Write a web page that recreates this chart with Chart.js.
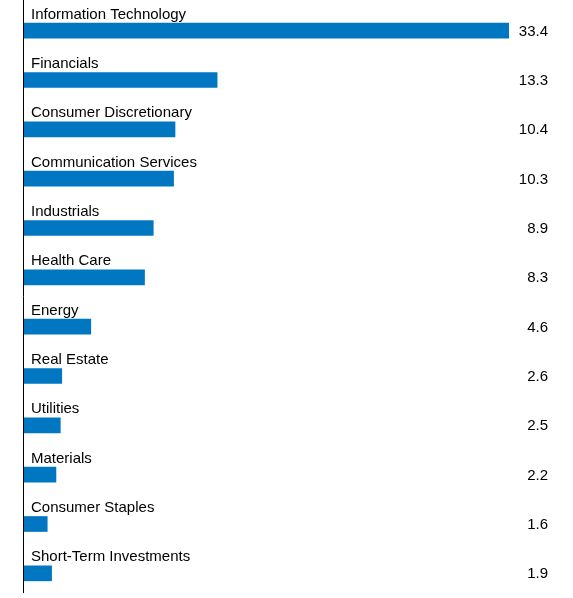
<!DOCTYPE html>
<html>
<head>
<script src="https://cdn.jsdelivr.net/npm/chart.js@4"></script>
<style>
body { margin: 0; background: #fff; }
#wrap { width: 573px; height: 598px; }
</style>
</head>
<body>
<div id="wrap"><canvas id="c"></canvas></div>
<script>
const sectors = ['Information Technology', 'Financials', 'Consumer Discretionary', 'Communication Services',
    'Industrials', 'Health Care', 'Energy', 'Real Estate', 'Utilities', 'Materials', 'Consumer Staples',
    'Short-Term Investments'];
const weights = [33.4, 13.3, 10.4, 10.3, 8.9, 8.3, 4.6, 2.6, 2.5, 2.2, 1.6, 1.9];

const labelPlugin = {
    id: 'labels',
    afterDatasetsDraw(chart) {
        const ctx = chart.ctx;
        const meta = chart.getDatasetMeta(0);
        ctx.save();
        ctx.font = '15px "Liberation Sans", Arial, sans-serif';
        ctx.fillStyle = '#000';
        meta.data.forEach((bar, i) => {
            ctx.textAlign = 'left';
            ctx.textBaseline = 'alphabetic';
            ctx.fillText(sectors[i], 31, bar.y - 12);
            ctx.textAlign = 'right';
            ctx.textBaseline = 'middle';
            ctx.fillText(weights[i].toFixed(1), 548, bar.y + 1);
        });
        ctx.strokeStyle = '#000';
        ctx.lineWidth = 1;
        ctx.beginPath();
        ctx.moveTo(23.5, 0);
        ctx.lineTo(23.5, 593);
        ctx.stroke();
        ctx.restore();
    }
};

new Chart(document.getElementById('c'), {
    type: 'bar',
    data: {
        labels: sectors,
        datasets: [{
            data: weights,
            backgroundColor: '#0077c0',
            barThickness: 15
        }]
    },
    options: {
        indexAxis: 'y',
        responsive: true,
        maintainAspectRatio: false,
        animation: false,
        layout: { padding: { left: 24, right: 64, top: 6, bottom: 0 } },
        plugins: { legend: { display: false }, tooltip: { enabled: false } },
        scales: {
            x: { display: false, min: 0, max: 33.4 },
            y: { display: false }
        }
    },
    plugins: [labelPlugin]
});
</script>
</body>
</html>
